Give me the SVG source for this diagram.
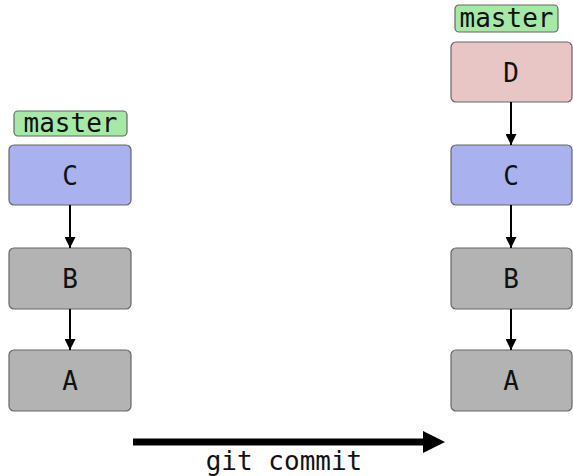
<svg xmlns="http://www.w3.org/2000/svg" width="573" height="476" viewBox="0 0 573 476">
  <defs>
    <marker id="tip" viewBox="0 0 10 10" refX="10" refY="5" markerWidth="11" markerHeight="11" markerUnits="userSpaceOnUse" orient="auto">
      <path d="M0,0 L10,5 L0,10 z" fill="#000"/>
    </marker>
    <style>
      .box { stroke: #666; stroke-width: 1.2; }
      .gray { fill: #b3b3b3; }
      .blue { fill: #a9b1ef; }
      .pink { fill: #e8c6c6; }
      .tag { fill: #a4eaa4; stroke: #666; stroke-width: 1.2; }
      .lbl { font-family: "DejaVu Sans Mono", monospace; font-size: 26px; fill: #111; text-anchor: middle; }
      .edge { stroke: #000; stroke-width: 2; fill: none; marker-end: url(#tip); }
    </style>
  </defs>

  <!-- left history -->
  <g id="left-master"><rect class="tag" x="14" y="111" width="113" height="25" rx="4"/><text class="lbl" x="70.5" y="132" font-size="25">master</text></g>
  <g id="left-C"><rect class="box blue" x="9" y="145" width="122" height="60" rx="5"/><text class="lbl" x="70" y="185">C</text></g>
  <g id="left-B"><rect class="box gray" x="9" y="248" width="122" height="61" rx="5"/><text class="lbl" x="70" y="288">B</text></g>
  <g id="left-A"><rect class="box gray" x="9" y="350" width="122" height="61" rx="5"/><text class="lbl" x="70" y="390">A</text></g>

  <!-- right history -->
  <g id="right-master"><rect class="tag" x="455" y="5" width="103" height="27" rx="4"/><text class="lbl" x="506.5" y="27" font-size="25">master</text></g>
  <g id="right-D"><rect class="box pink" x="451" y="42" width="121" height="60" rx="5"/><text class="lbl" x="511" y="82">D</text></g>
  <g id="right-C"><rect class="box blue" x="451" y="145" width="121" height="60" rx="5"/><text class="lbl" x="511" y="185">C</text></g>
  <g id="right-B"><rect class="box gray" x="451" y="248" width="121" height="61" rx="5"/><text class="lbl" x="511" y="288">B</text></g>
  <g id="right-A"><rect class="box gray" x="451" y="350" width="121" height="61" rx="5"/><text class="lbl" x="511" y="390">A</text></g>

  <g id="connectors">
    <line class="edge" x1="70" y1="205" x2="70" y2="248"/>
    <line class="edge" x1="70" y1="309" x2="70" y2="350"/>
    <line class="edge" x1="511" y1="102" x2="511" y2="145"/>
    <line class="edge" x1="511" y1="205" x2="511" y2="248"/>
    <line class="edge" x1="511" y1="309" x2="511" y2="350"/>
    <line x1="133" y1="442" x2="425" y2="442" stroke="#000" stroke-width="7"/>
    <path d="M423,431 L445,442 L423,453 z" fill="#000"/>
  </g>
  <text class="lbl" x="284" y="470">git commit</text>
</svg>
